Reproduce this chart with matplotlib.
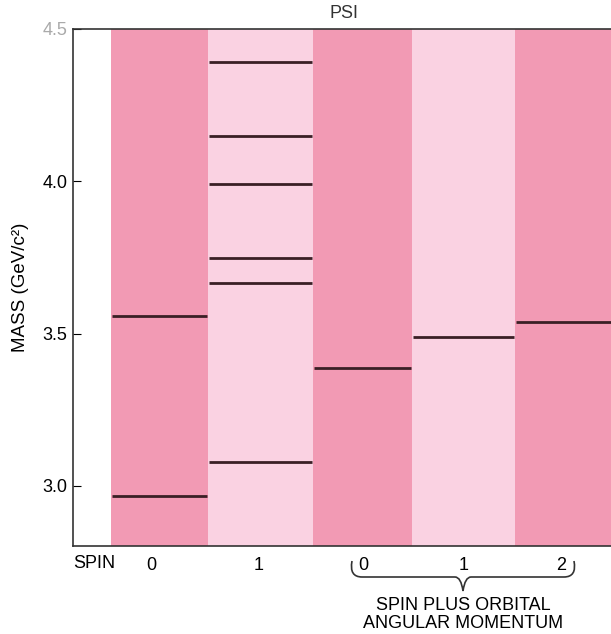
import matplotlib.pyplot as plt
from matplotlib.path import Path
from matplotlib.patches import PathPatch

plt.rcParams['font.family'] = ['Liberation Sans', 'DejaVu Sans']

# columns (spin 0, spin 1, then spin + orbital 0, 1, 2)
col_labels = ['0', '1', '0', '1', '2']
col_colors = ['#f29ab4', '#fad2e2', '#f29ab4', '#fad2e2', '#f29ab4']

# mass levels (GeV/c^2), per column
levels = [
    [3.557, 2.967],
    [4.393, 4.148, 3.990, 3.748, 3.666, 3.079],
    [3.387],
    [3.489],
    [3.538],
]

# column edges and label positions in axis units
edges = [-0.475, 0.485, 1.535, 2.515, 3.535, 4.6]
label_pos = [-0.07, 0.99, 2.03, 3.03, 3.99]

fig = plt.figure(figsize=(6.11, 6.34), dpi=100)
ax = fig.add_axes([0.1195, 0.1388, 0.8805, 0.8155])

for i, c in enumerate(col_colors):
    ax.axvspan(edges[i], edges[i + 1], color=c, lw=0)

for i, lv in enumerate(levels):
    for m in lv:
        ax.hlines(m, edges[i] + 0.01, edges[i + 1] - 0.01, color='#3a1f25', lw=2)

ax.set_xlim(-0.85, 4.49)
ax.set_ylim(2.803, 4.498)

ax.set_yticks([3.0, 3.5, 4.0, 4.5])
ax.set_yticklabels(['3.0', '3.5', '4.0', '4.5'], fontsize=13)
ax.get_yticklabels()[-1].set_color('#aaaaaa')
ax.tick_params(axis='y', direction='in', length=6, width=0.8, pad=4)
ax.set_xticks(label_pos)
ax.set_xticklabels(col_labels, fontsize=13)
ax.tick_params(axis='x', length=0, pad=8)

ax.spines['right'].set_visible(False)
for s in ['left', 'top', 'bottom']:
    ax.spines[s].set_linewidth(1.2)
    ax.spines[s].set_color('#333333')

ax.set_ylabel('MASS (GeV/c²)', fontsize=13.5, labelpad=10)

fig.text(344 / 611, 1 - 13 / 634, 'PSI', ha='center', va='center', fontsize=13, color='#333333')
fig.text(94 / 611, 1 - 563 / 634, 'SPIN', ha='center', va='center', fontsize=13)
fig.text(463 / 611, 1 - 606 / 634, 'SPIN PLUS ORBITAL', ha='center', va='center', fontsize=13)
fig.text(463 / 611, 1 - 624 / 634, 'ANGULAR MOMENTUM', ha='center', va='center', fontsize=13)

# curly brace under the last three columns
def fx(px):
    return px / 611

def fy(py):
    return 1 - py / 634

x0, x1, xm = 352, 574, 463
yt, yb, yr = 561, 577, 591
verts = [
    (fx(x0), fy(yt)), (fx(x0 - 3), fy(yb)), (fx(x0 + 10), fy(yb)),
    (fx(xm - 8), fy(yb)), (fx(xm - 2), fy(yb)), (fx(xm), fy(yr)),
    (fx(xm + 2), fy(yb)), (fx(xm + 8), fy(yb)),
    (fx(x1 - 10), fy(yb)), (fx(x1 + 3), fy(yb)), (fx(x1), fy(yt)),
]
codes = [Path.MOVETO, Path.CURVE3, Path.CURVE3,
         Path.LINETO, Path.CURVE3, Path.CURVE3,
         Path.CURVE3, Path.CURVE3,
         Path.LINETO, Path.CURVE3, Path.CURVE3]
brace = PathPatch(Path(verts, codes), transform=fig.transFigure,
                  fill=False, lw=1.2, color='#333333')
fig.patches.append(brace)

fig.savefig('out.png', dpi=100)
